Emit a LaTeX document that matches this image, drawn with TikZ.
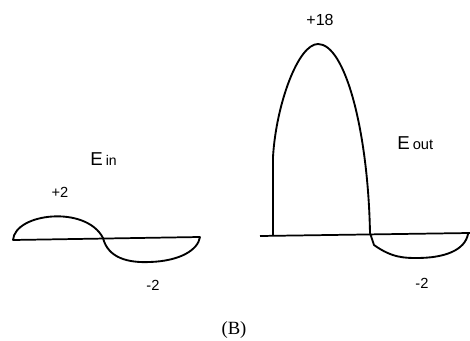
\documentclass[tikz,border=0pt]{standalone}
\usepackage{fontspec}
\setmainfont{Liberation Serif}
\setsansfont{Liberation Sans}
\begin{document}
\begin{tikzpicture}[x=0.75pt,y=-0.75pt,
  wave/.style={line width=1.4pt,line join=round,line cap=round},
  axisline/.style={line width=1.3pt},
  lbl/.style={font=\sffamily\fontsize{11}{12}\selectfont,inner sep=0pt},
  field/.style={font=\sffamily\fontsize{14}{15}\selectfont,inner sep=0pt,anchor=base west}]
  \useasboundingbox (0,0) rectangle (470,341);
  % input pulse
  \draw[axisline] (13,240) -- (200,237);
  \draw[wave] (13,240) .. controls (15,213) and (86,205) .. (103,238)
     .. controls (108,258) and (128,263) .. (150,262)
     .. controls (180,261) and (198,250) .. (200,237);
  \node[lbl] (inpos) at (60,192) {+2};
  \node[lbl] (inneg) at (153,285) {-2};
  \node[field] (ein) at (90,166) {E\,{\fontsize{10.5}{12}\selectfont in}};
  % output pulse
  \draw[axisline] (260,236) -- (470,233);
  \draw[wave] (273,235) -- (273,157) .. controls (276,105) and (298,44) .. (318,44)
     .. controls (345,44) and (368,130) .. (370,233)
     -- (374,245) .. controls (392,258) and (405,258) .. (417,258)
     .. controls (445,258) and (465,250) .. (468,234);
  \node[lbl,font=\sffamily\fontsize{12}{13}\selectfont] (outpos) at (320,20) {+18};
  \node[lbl] (outneg) at (422,283) {-2};
  \node[field] (eout) at (397,150) {E\,{\fontsize{11}{12}\selectfont out}};
  \node[font=\fontsize{14}{15}\selectfont,inner sep=0pt] (cap) at (234,330) {(B)};
\end{tikzpicture}
\end{document}
